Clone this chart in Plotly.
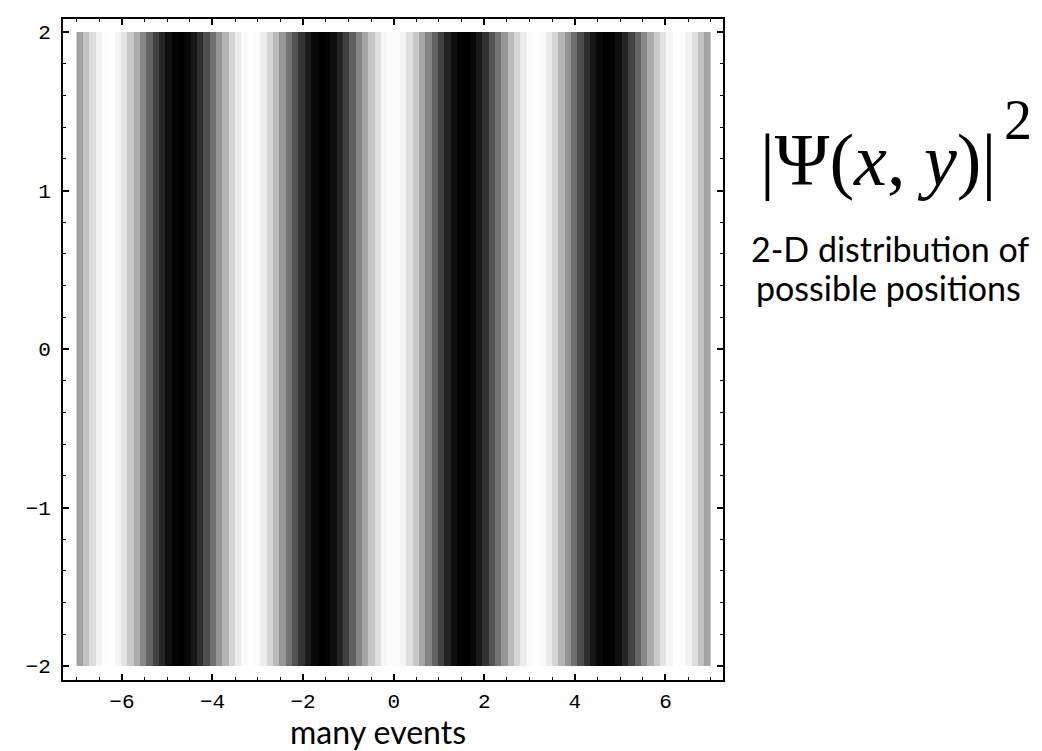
import plotly.graph_objects as go

# Gray level (0 = black, 1 = white) of each vertical stripe, read left to right
# across x from -7 to 7 (100 equal columns); the picture does not vary with y.
stripe_levels = [
    0.64, 0.76, 0.87, 0.95, 0.99, 1.00, 0.96, 0.89, 0.79, 0.67,
    0.53, 0.39, 0.26, 0.15, 0.06, 0.01, 0.00, 0.03, 0.09, 0.18,
    0.30, 0.44, 0.58, 0.71, 0.83, 0.92, 0.98, 1.00, 0.98, 0.93,
    0.84, 0.73, 0.59, 0.45, 0.32, 0.20, 0.10, 0.03, 0.00, 0.01,
    0.06, 0.14, 0.25, 0.38, 0.52, 0.65, 0.78, 0.88, 0.96, 0.99,
    0.99, 0.96, 0.88, 0.78, 0.65, 0.52, 0.38, 0.25, 0.14, 0.06,
    0.01, 0.00, 0.03, 0.10, 0.20, 0.32, 0.45, 0.59, 0.73, 0.84,
    0.93, 0.98, 1.00, 0.98, 0.92, 0.83, 0.71, 0.58, 0.44, 0.30,
    0.18, 0.09, 0.03, 0.00, 0.01, 0.06, 0.15, 0.26, 0.39, 0.53,
    0.67, 0.79, 0.89, 0.96, 1.00, 0.99, 0.95, 0.87, 0.76, 0.64,
]
x_start, x_end = -7.0, 7.0
y_start, y_end = -2.0, 2.0

formula_text = "|Ψ(<i>x</i>, <i>y</i>)|"
formula_power = "2"
caption_lines = ["2-D distribution of", "possible positions"]
bottom_text = "many events"

n = len(stripe_levels)
dx = (x_end - x_start) / n

fig = go.Figure(
    go.Heatmap(
        z=[stripe_levels],
        x0=x_start + dx / 2,
        dx=dx,
        y0=(y_start + y_end) / 2,
        dy=(y_end - y_start),
        colorscale=[[0, "#000000"], [1, "#ffffff"]],
        zmin=0,
        zmax=1,
        showscale=False,
        hoverinfo="skip",
    )
)

tick_font = dict(family="Liberation Mono, DejaVu Sans Mono, monospace", size=21, color="#000")
axis_common = dict(
    showline=True,
    linecolor="#000",
    linewidth=1.8,
    mirror="allticks",
    ticks="inside",
    ticklen=6,
    tickwidth=1.6,
    tickcolor="#000",
    showgrid=False,
    zeroline=False,
    tickfont=tick_font,
    tickmode="linear",
    tick0=0,
)

fig.update_xaxes(
    **axis_common,
    range=[-7.3, 7.27],
    dtick=2,
    ticklabelstandoff=1,
    minor=dict(tickmode="linear", tick0=0, dtick=0.5, ticks="inside", ticklen=3.5,
               tickwidth=1.4, tickcolor="#000", showgrid=False),
)
fig.update_yaxes(
    **axis_common,
    range=[-2.088, 2.082],
    dtick=1,
    ticklabelstandoff=6,
    minor=dict(tickmode="linear", tick0=0, dtick=0.2, ticks="inside", ticklen=3.5,
               tickwidth=1.4, tickcolor="#000", showgrid=False),
)

# plot frame spans pixels x 55..715, y 9..672
L, R, T, B = 55, 715, 9, 672
W, H = 1042, 751


def px(xp):
    return (xp - L) / (R - L)


def py(yp):
    return (B - yp) / (B - T)


sans = "Lato, Open Sans, sans-serif"
serif = "Liberation Serif, DejaVu Serif, serif"
annotations = [
    dict(text=formula_text, x=px(870), y=py(150), xanchor="center", yanchor="middle",
         font=dict(family=serif, size=74, color="#000")),
    dict(text=formula_power, x=px(1010), y=py(110), xanchor="center", yanchor="middle",
         font=dict(family=serif, size=56, color="#000")),
    dict(text=caption_lines[0], x=px(882), y=py(239), xanchor="center", yanchor="middle",
         font=dict(family=sans, size=34, color="#000")),
    dict(text=caption_lines[1], x=px(880), y=py(278), xanchor="center", yanchor="middle",
         font=dict(family=sans, size=34, color="#000")),
    dict(text=bottom_text, x=px(370), y=py(745), xanchor="center", yanchor="bottom",
         font=dict(family=sans, size=32, color="#000")),
]
for a in annotations:
    a.update(xref="paper", yref="paper", showarrow=False)

fig.update_layout(
    width=W,
    height=H,
    margin=dict(l=L, r=W - R, t=T, b=H - B, pad=0),
    paper_bgcolor="#ffffff",
    plot_bgcolor="#ffffff",
    annotations=annotations,
    shapes=[dict(type="line", xref="paper", yref="paper", x0=px(27), x1=px(713),
                 y0=py(750), y1=py(750), line=dict(color="#cfcfcf", width=2))],
    showlegend=False,
)

fig.write_html("out.html")
